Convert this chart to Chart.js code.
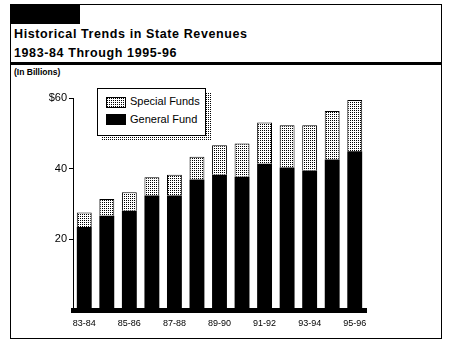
<!DOCTYPE html>
<html>
<head>
<meta charset="utf-8">
<script src="https://cdn.jsdelivr.net/npm/chart.js@4.4.1/dist/chart.umd.min.js"></script>
<style>
  html, body { margin: 0; padding: 0; background: #fff; }
  #page { position: relative; width: 451px; height: 350px; overflow: hidden; font-family: "Liberation Sans", Arial, sans-serif; }
  #frame { position: absolute; left: 10px; top: 4px; width: 430px; height: 333px; border: 1px solid #000; }
  #tab { position: absolute; left: 11px; top: 4px; width: 69px; height: 20px; background: #000; }
  .title { position: absolute; left: 14px; font-weight: bold; font-size: 12.5px; letter-spacing: 0.6px; color: #000; }
  #rule { position: absolute; left: 10px; top: 62px; width: 432px; height: 3px; background: #000; }
  #units { position: absolute; left: 14px; top: 67px; font-size: 8.5px; font-weight: bold; }
  #chart { position: absolute; left: 0; top: 0; }
  #legendShadow { position: absolute; left: 102px; top: 93px; width: 109px; height: 48px; }
  #legend { position: absolute; left: 97px; top: 88px; width: 107px; height: 46px; border: 1px solid #000; background: #fff; }
  .sw { position: absolute; left: 8px; width: 20px; height: 11px; border: 1px solid #000; box-sizing: border-box; }
  .lt { position: absolute; left: 32px; font-size: 11px; }
</style>
</head>
<body>
<div id="page">
  <div id="frame"></div>
  <div id="tab"></div>
  <div class="title" style="top:27px">Historical Trends in State Revenues</div>
  <div class="title" style="top:46px">1983-84 Through 1995-96</div>
  <div id="rule"></div>
  <div id="units">(In Billions)</div>
  <canvas id="chart" width="451" height="350"></canvas>
  <div id="legendShadow"></div>
  <div id="legend">
    <div class="sw" id="swSpecial" style="top:8px"></div>
    <div class="lt" style="top:6px">Special Funds</div>
    <div class="sw" style="top:25px; background:#000"></div>
    <div class="lt" style="top:24px">General Fund</div>
  </div>
</div>
<script>
const years = ["83-84", "84-85", "85-86", "86-87", "87-88", "88-89", "89-90",
  "90-91", "91-92", "92-93", "93-94", "94-95", "95-96"];
const generalFund = [23.5, 26.7, 28.1, 32.4, 32.4, 36.9, 38.3, 37.7, 41.4, 40.3, 39.5, 42.6, 44.9];
const specialFunds = [4.1, 4.7, 5.2, 5.2, 5.9, 6.5, 8.3, 9.4, 11.7, 12.0, 12.8, 13.7, 14.5];
const yTicks = [20, 40, 60];

// dotted fill used for special funds
function makeDots() {
  const c = document.createElement("canvas");
  c.width = 2; c.height = 2;
  const g = c.getContext("2d");
  g.fillStyle = "#fff";
  g.fillRect(0, 0, 2, 2);
  g.fillStyle = "#000";
  g.fillRect(0, 0, 1, 1);
  return c;
}
const dots = makeDots();
const ctx = document.getElementById("chart").getContext("2d");
const dotPattern = ctx.createPattern(dots, "repeat");
const dotUrl = "url(" + dots.toDataURL() + ")";
document.getElementById("swSpecial").style.backgroundImage = dotUrl;
document.getElementById("legendShadow").style.backgroundImage = dotUrl;

const font = { family: "'Liberation Sans', Arial, sans-serif", size: 10 };

new Chart(ctx, {
  type: "bar",
  data: {
    labels: years,
    datasets: [
      { label: "General Fund", data: generalFund, backgroundColor: "#000", borderWidth: 0,
        barPercentage: 0.66, categoryPercentage: 1 },
      { label: "Special Funds", data: specialFunds, backgroundColor: dotPattern, borderColor: "#000",
        borderWidth: 1, barPercentage: 0.66, categoryPercentage: 1 }
    ]
  },
  options: {
    responsive: false,
    animation: false,
    events: [],
    layout: { padding: { left: 0, top: 98, right: 85, bottom: 20 } },
    plugins: { legend: { display: false }, tooltip: { enabled: false } },
    scales: {
      x: {
        stacked: true,
        afterFit: (s) => { s.height = 20; },
        grid: { display: false, drawTicks: false },
        border: { display: true, color: "#000", width: 5 },
        ticks: {
          autoSkip: false, maxRotation: 0, padding: 8, color: "#000",
          font: { family: font.family, size: 9 },
          callback: (v, i) => (i % 2 === 0 ? years[i] : "")
        }
      },
      y: {
        stacked: true,
        min: 0, max: 60,
        afterFit: (s) => { s.width = 73; },
        afterBuildTicks: (s) => { s.ticks = yTicks.map((v) => ({ value: v })); },
        grid: { drawOnChartArea: false, tickLength: 4, color: "#000" },
        border: { color: "#000", width: 1 },
        ticks: {
          color: "#000", padding: 2, font: { family: font.family, size: 11 },
          callback: (v) => (v === 60 ? "$60" : String(v))
        }
      }
    }
  }
});
</script>
</body>
</html>
